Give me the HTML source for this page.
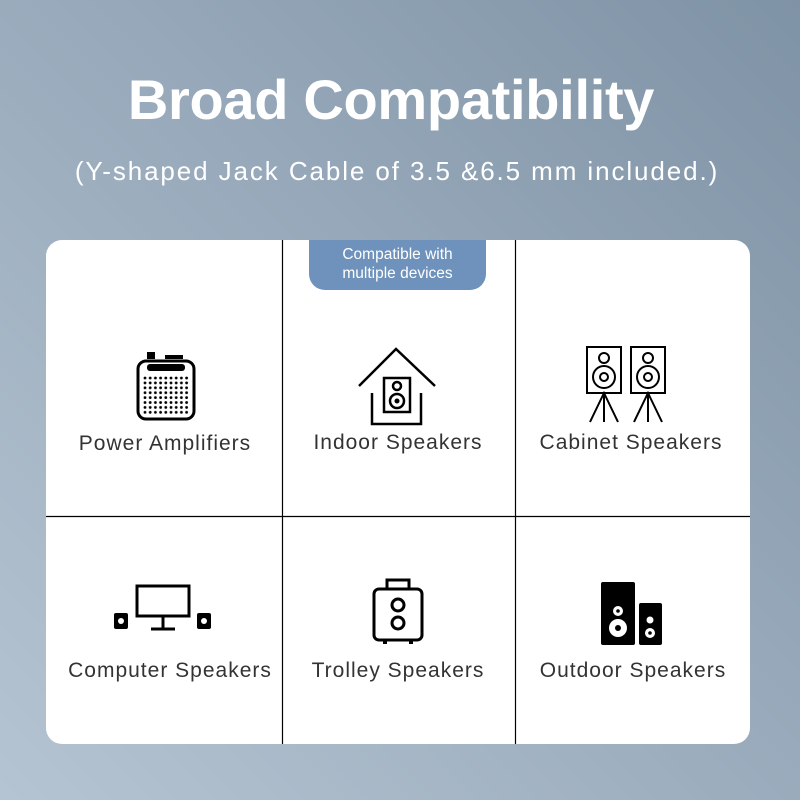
<!DOCTYPE html>
<html><head><style>
body{margin:0;width:800px;height:800px;overflow:hidden;font-family:"Liberation Sans",sans-serif;}
.bg{position:absolute;left:0;top:0;width:800px;height:800px;background:linear-gradient(225deg,#7f93a6 0%,#97a9ba 45%,#b5c4d2 100%);}
.t{position:absolute;left:0;width:800px;text-align:center;color:#fff;}
.card{position:absolute;left:46px;top:240px;width:704px;height:504px;background:#fff;border-radius:16px;}
.lab{position:absolute;width:234px;text-align:center;font-size:21px;color:#333;letter-spacing:1px;}
.badge{position:absolute;left:309px;top:240px;width:177px;height:50px;background:#6e92bb;border-radius:0 0 16px 16px;color:#fff;font-size:15.5px;text-align:center;line-height:19px;padding-top:5px;box-sizing:border-box;}
</style></head><body>
<div class="bg"></div>
<div class="t" style="top:67px;font-size:56px;font-weight:bold;letter-spacing:-0.3px;width:782px;">Broad Compatibility</div>
<div class="t" style="top:156px;font-size:26px;letter-spacing:1.9px;width:794px;">(Y-shaped Jack Cable of 3.5 &amp;6.5 mm included.)</div>
<div class="card"></div>
<svg style="position:absolute;left:0;top:0" width="800" height="800">
<defs><pattern id="dp" x="143" y="376" width="5.2" height="4.9" patternUnits="userSpaceOnUse"><circle cx="2" cy="2" r="1.4" fill="#000"/></pattern></defs>
<g stroke="#000" stroke-width="1.2">
<line x1="282.5" y1="240" x2="282.5" y2="744"/><line x1="515.5" y1="240" x2="515.5" y2="744"/><line x1="46" y1="516.5" x2="750" y2="516.5"/>
</g>
<rect x="138" y="361" width="56" height="58" rx="8" fill="none" stroke="#000" stroke-width="3"/>
<rect x="147" y="352" width="8" height="7"/><rect x="165" y="355" width="18" height="4"/>
<rect x="147" y="364" width="38" height="7" rx="3"/>
<rect x="143" y="376" width="46" height="38" fill="url(#dp)"/>
<g fill="none" stroke="#000" stroke-width="2.5">
<polyline points="359,386 396,349 435,386"/>
<polyline points="372,393 372,424 421,424 421,393"/>
<rect x="384" y="378" width="26" height="34"/>
<circle cx="397" cy="386" r="4"/><circle cx="397" cy="401" r="7"/>
</g>
<circle cx="397" cy="401" r="2.5"/>
<g fill="none" stroke="#000" stroke-width="2">
<rect x="587" y="347" width="34" height="46"/><rect x="631" y="347" width="34" height="46"/>
<circle cx="604" cy="358" r="5"/><circle cx="604" cy="377" r="11"/><circle cx="604" cy="377" r="4"/>
<circle cx="648" cy="358" r="5"/><circle cx="648" cy="377" r="11"/><circle cx="648" cy="377" r="4"/>
<polyline points="590,422 604,393 618,422"/><line x1="604" y1="393" x2="604" y2="422"/>
<polyline points="634,422 648,393 662,422"/><line x1="648" y1="393" x2="648" y2="422"/>
</g>
<g fill="none" stroke="#000" stroke-width="3">
<rect x="137" y="586" width="52" height="30"/><line x1="163" y1="616" x2="163" y2="628"/><line x1="151" y1="629" x2="175" y2="629"/>
</g>
<rect x="114" y="613" width="14" height="16" rx="2"/><rect x="197" y="613" width="14" height="16" rx="2"/>
<circle cx="121" cy="621" r="3" fill="#fff"/><circle cx="204" cy="621" r="3" fill="#fff"/>
<g fill="none" stroke="#000" stroke-width="3">
<rect x="374" y="589" width="48" height="51" rx="5"/><polyline points="387,589 387,580 409,580 409,589"/>
<circle cx="398" cy="605" r="6"/><circle cx="398" cy="623" r="6"/>
</g>
<rect x="383" y="639" width="4" height="5"/><rect x="409" y="639" width="4" height="5"/>
<rect x="601" y="582" width="34" height="63" rx="2"/><rect x="639" y="603" width="23" height="42" rx="2"/>
<circle cx="618" cy="611" r="5" fill="#fff"/><circle cx="618" cy="611" r="1.8"/>
<circle cx="618" cy="628" r="9" fill="#fff"/><circle cx="618" cy="628" r="3"/>
<circle cx="650" cy="620" r="3.5" fill="#fff"/>
<circle cx="650" cy="633" r="5" fill="#fff"/><circle cx="650" cy="633" r="1.8"/>
</svg>
<div class="badge">Compatible with<br>multiple devices</div>
<div class="lab" style="left:48px;top:432px;">Power Amplifiers</div>
<div class="lab" style="left:281px;top:431px;">Indoor Speakers</div>
<div class="lab" style="left:514px;top:431px;">Cabinet Speakers</div>
<div class="lab" style="left:53px;top:659px;">Computer Speakers</div>
<div class="lab" style="left:281px;top:659px;">Trolley Speakers</div>
<div class="lab" style="left:516px;top:659px;">Outdoor Speakers</div>
</body></html>
